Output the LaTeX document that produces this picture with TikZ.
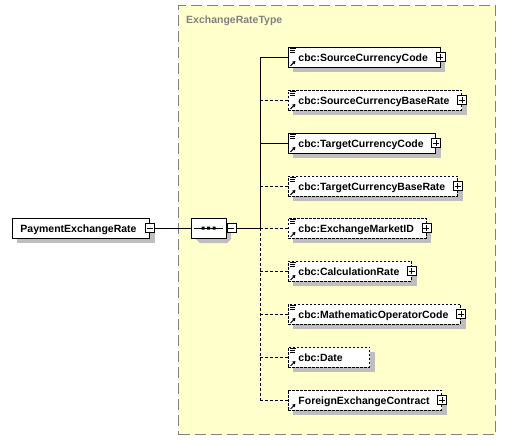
\documentclass[tikz,border=0pt]{standalone}
\usepackage{fontspec}
\setmainfont{Liberation Sans}
\usetikzlibrary{shapes.misc,arrows.meta}
\pgfdeclarelayer{back}
\pgfdeclarelayer{shade}
\pgfsetlayers{back,shade,main}
\definecolor{typebg}{HTML}{FFFFCC}
\definecolor{typeline}{HTML}{808080}
\definecolor{shadowc}{HTML}{BEBEBE}
\tikzset{
  xsdfont/.style={font=\bfseries\fontsize{10.5}{12}\selectfont},
  base elem/.style={draw, fill=white, xsdfont, anchor=west, line width=0.9pt,
    minimum height=20pt, inner xsep=0pt, inner ysep=0pt, text height=9pt, text depth=0pt},
  elem/.style={base elem,
    execute at begin node={\hspace*{10pt}}, execute at end node={\hspace*{12pt}}},
  opt/.style={elem, dash pattern=on 2.5pt off 1.5pt},
  link/.style={line width=0.9pt},
  optlink/.style={link, dash pattern=on 3pt off 2pt},
  seqbox/.style={chamfered rectangle, chamfered rectangle xsep=4pt, chamfered rectangle ysep=4pt,
    draw, fill=white,
    line width=0.9pt, minimum width=35pt, minimum height=20pt, inner sep=0pt},
  signbox/.style={draw, fill=white, line width=0.7pt, solid},
  typebox/.style={draw=typeline, fill=typebg, line width=1.2pt, dash pattern=on 11pt off 5pt,
    inner sep=0pt, anchor=north west},
}
% small +/- boxes, shadows and element icons
\newcommand{\plusbox}[1]{%
  \draw[signbox] ([shift={(-4.5pt,-4.5pt)}]#1) rectangle ([shift={(4.5pt,4.5pt)}]#1);
  \draw[line width=0.7pt] ([xshift=-3pt]#1) -- ([xshift=3pt]#1)
    ([yshift=-3pt]#1) -- ([yshift=3pt]#1);}
\newcommand{\minusbox}[1]{%
  \draw[signbox] ([shift={(-4.5pt,-4.5pt)}]#1) rectangle ([shift={(4.5pt,4.5pt)}]#1);
  \draw[line width=0.7pt] ([xshift=-3pt]#1) -- ([xshift=3pt]#1);}
\newcommand{\boxshadow}[1]{%
  \fill[shadowc] ([xshift=5pt,yshift=-5pt]#1.south west) rectangle ([xshift=5pt,yshift=-5pt]#1.north east);}
\newcommand{\refarrow}[1]{%
  \draw[line width=1pt, -{Triangle[length=3pt,width=3.5pt]}]
    ([shift={(2.5pt,1.5pt)}]#1.south west) -- ([shift={(7.5pt,6.5pt)}]#1.south west);}
\newcommand{\simpleicon}[1]{%
  \draw[line width=0.7pt] ([shift={(2pt,-1.5pt)}]#1.north west) -- ++(6pt,0pt)
    ([shift={(2pt,-3.5pt)}]#1.north west) -- ++(5pt,0pt)
    ([shift={(2pt,-5.5pt)}]#1.north west) -- ++(5pt,0pt);
  \refarrow{#1}}

\begin{document}
\begin{tikzpicture}[x=1pt,y=-1pt]
  \useasboundingbox (0,0) rectangle (506,442);

  % complex type area
  \begin{pgfonlayer}{back}
  \node[typebox, minimum width=317pt, minimum height=429pt] (ert) at (178,5) {};
  \end{pgfonlayer}
  \node[xsdfont, text=typeline, anchor=base west, inner sep=0pt] (ertlabel) at (186,23) {ExchangeRateType};

  % root element and sequence
  \node[base elem, execute at begin node={\hspace*{8pt}}, execute at end node={\hspace*{13pt}}]
    (per) at (12,228) {PaymentExchangeRate};
  \node[seqbox] (seq) at (208.5,228) {};
  \coordinate (seqx) at ([xshift=5pt]seq.east);
  \coordinate (fork) at (260,228);

  % children
  \node[elem] (scc) at (288,57) {cbc:SourceCurrencyCode};
  \node[opt] (scbr) at (288,100) {cbc:SourceCurrencyBaseRate};
  \node[elem] (tcc) at (288,143) {cbc:TargetCurrencyCode};
  \node[opt] (tcbr) at (288,186) {cbc:TargetCurrencyBaseRate};
  \node[opt] (emid) at (288,228) {cbc:ExchangeMarketID};
  \node[opt] (calc) at (288,271) {cbc:CalculationRate};
  \node[opt] (mop) at (288,314) {cbc:MathematicOperatorCode};
  \node[opt, execute at end node={\hspace*{15pt}}] (date) at (288,357) {cbc:Date};
  \node[opt] (fxc) at (288,400) {ForeignExchangeContract};

  % shadows
  \begin{pgfonlayer}{shade}
  \boxshadow{per} \boxshadow{scc} \boxshadow{scbr} \boxshadow{tcc} \boxshadow{tcbr}
  \boxshadow{emid} \boxshadow{calc} \boxshadow{mop} \boxshadow{date} \boxshadow{fxc}
  \fill[shadowc] (196,227) -- (200,223) -- (227,223) -- (231,227)
    -- (231,239) -- (227,243) -- (200,243) -- (196,239) -- cycle;
  \end{pgfonlayer}

  % connectors
  \draw[link] ([xshift=4.5pt]per.east) -- (seq.west);
  \draw[link] ([xshift=4.5pt]seqx) -- (fork);
  \draw[link] (fork |- scc.west) -- (fork);
  \draw[optlink] (fork) -- (fork |- fxc.west);
  \draw[link] (fork |- scc.west) -- (scc.west);
  \draw[optlink] (fork |- scbr.west) -- (scbr.west);
  \draw[link] (fork |- tcc.west) -- (tcc.west);
  \draw[optlink] (fork |- tcbr.west) -- (tcbr.west);
  \draw[optlink] (fork) -- (emid.west);
  \draw[optlink] (fork |- calc.west) -- (calc.west);
  \draw[optlink] (fork |- mop.west) -- (mop.west);
  \draw[optlink] (fork |- date.west) -- (date.west);
  \draw[optlink] (fork |- fxc.west) -- (fxc.west);

  % sequence symbol
  \draw[line width=0.9pt] ([xshift=-14.5pt]seq.center) -- ([xshift=14.5pt]seq.center);
  \fill ([shift={(-7pt,-1.5pt)}]seq.center) rectangle ([shift={(-4pt,1.5pt)}]seq.center)
        ([shift={(-1.5pt,-1.5pt)}]seq.center) rectangle ([shift={(1.5pt,1.5pt)}]seq.center)
        ([shift={(4pt,-1.5pt)}]seq.center) rectangle ([shift={(7pt,1.5pt)}]seq.center);

  % expand / collapse boxes and icons
  \minusbox{per.east}
  \minusbox{seqx}
  \simpleicon{scc} \plusbox{scc.east}
  \simpleicon{scbr} \plusbox{scbr.east}
  \simpleicon{tcc} \plusbox{tcc.east}
  \simpleicon{tcbr} \plusbox{tcbr.east}
  \simpleicon{emid} \plusbox{emid.east}
  \simpleicon{calc} \plusbox{calc.east}
  \simpleicon{mop} \plusbox{mop.east}
  \simpleicon{date}
  \refarrow{fxc} \plusbox{fxc.east}
\end{tikzpicture}
\end{document}
